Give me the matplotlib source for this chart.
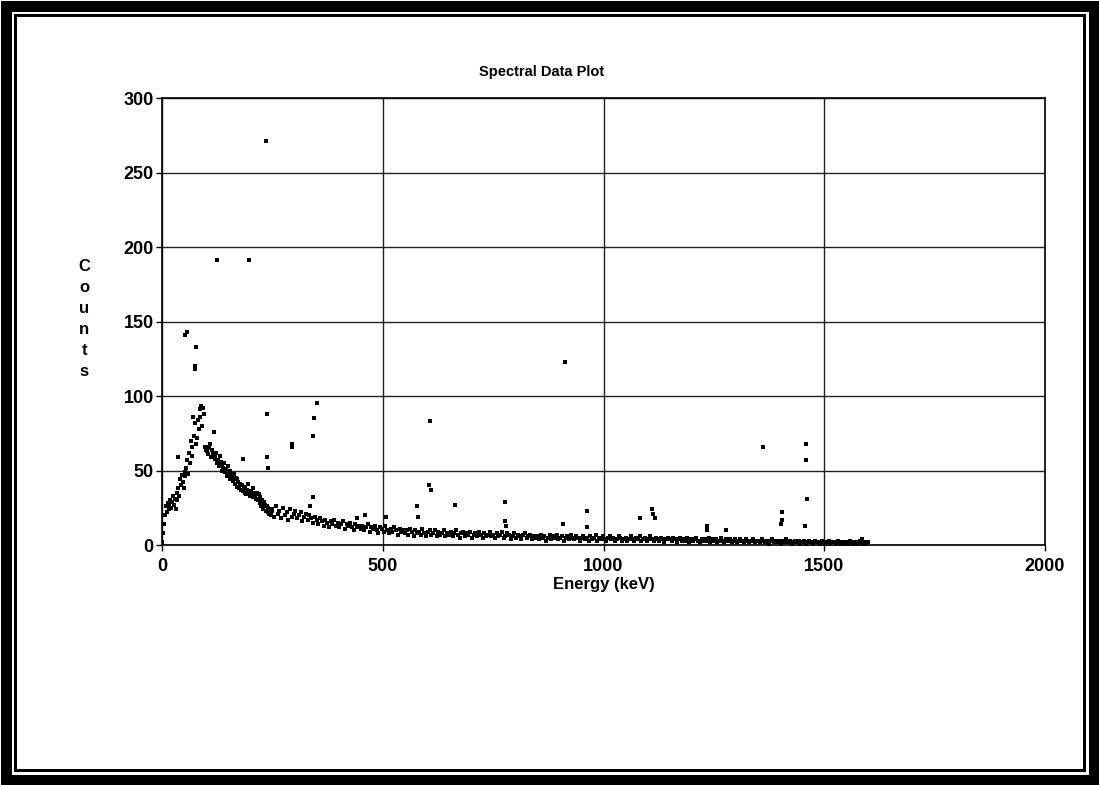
"""
Spectral Data Plot
==================

Scanned gamma spectrum (counts vs. energy), redrawn with matplotlib.
"""

import numpy as np
import matplotlib.pyplot as plt
from matplotlib.patches import Rectangle

plt.rcParams['font.family'] = ['Liberation Sans', 'DejaVu Sans']

# %%
# Continuum.  Low energies every 2 keV, the rest every 4 keV.

energy_lo = np.arange(1, 250, 2)       # [keV] channel energies 1..249
counts_lo = [
    2, 8, 14, 20, 26, 22, 28, 24, 27, 30,
    25, 29, 33, 27, 31, 24, 35, 30, 38, 33,
    44, 40, 47, 42, 38, 49, 46, 52, 57, 48,
    62, 55, 70, 66, 60, 86, 73, 82, 68, 72,
    84, 78, 91, 86, 93, 80, 92, 88, 66, 64,
    63, 66, 61, 65, 68, 59, 64, 62, 76, 60,
    58, 62, 55, 57, 53, 60, 56, 50, 54, 52,
    55, 49, 51, 46, 53, 48, 44, 50, 47, 45,
    43, 48, 41, 45, 39, 44, 42, 38, 41, 37,
    40, 36, 39, 35, 38, 34, 37, 41, 35, 33,
    36, 34, 38, 32, 35, 33, 31, 35, 30, 34,
    28, 32, 26, 30, 24, 29, 27, 23, 26, 22,
    25, 21, 24, 20, 23,
]

energy_hi = np.arange(250, 1600, 4)    # [keV] channel energies 250..1598
counts_hi = [
    24, 19, 26, 21, 23, 18, 25, 20, 22, 17, 24, 19, 21, 23, 18, 20, 22, 16, 19, 21, 17, 20, 18, 15, 19,
    17, 14, 18, 16, 13, 17, 15, 12, 16, 14, 17, 13, 15, 12, 14, 16, 11, 14, 13, 15, 12, 10, 14, 12, 13,
    11, 13, 10, 12, 14, 9, 12, 11, 13, 10, 8, 12, 11, 9, 13, 10, 8, 11, 9, 12, 10, 7, 11, 9, 10,
    8, 10, 7, 11, 9, 6, 10, 8, 9, 7, 11, 8, 6, 9, 10, 7, 8, 10, 6, 9, 7, 8, 10, 6, 8,
    7, 9, 6, 8, 10, 7, 5, 8, 9, 6, 8, 7, 9, 5, 7, 8, 6, 9, 7, 5, 8, 6, 7, 9, 6,
    7, 5, 8, 6, 7, 9, 5, 6, 8, 7, 4, 6, 8, 5, 7, 6, 4, 7, 8, 5, 6, 7, 4, 6, 5,
    6, 4, 7, 5, 6, 3, 5, 7, 4, 6, 5, 7, 4, 5, 6, 3, 5, 6, 4, 7, 5, 4, 6, 5, 3,
    5, 6, 4, 5, 3, 6, 4, 5, 7, 3, 5, 4, 6, 4, 3, 5, 6, 4, 5, 3, 4, 6, 5, 3, 4,
    5, 3, 4, 6, 4, 3, 5, 4, 6, 3, 4, 5, 3, 4, 6, 4, 3, 5, 4, 3, 5, 4, 2, 4, 5,
    4, 3, 5, 4, 2, 4, 5, 3, 4, 3, 5, 2, 4, 3, 4, 5, 3, 2, 4, 3, 4, 3, 5, 2, 4,
    3, 4, 2, 3, 5, 3, 2, 4, 3, 4, 2, 3, 4, 2, 3, 4, 3, 2, 4, 3, 2, 3, 4, 2, 3,
    3, 2, 4, 3, 2, 3, 1, 3, 4, 2, 3, 2, 3, 1, 3, 2, 4, 2, 3, 1, 2, 3, 2, 3, 1,
    2, 3, 1, 2, 3, 2, 1, 3, 2, 2, 1, 3, 2, 1, 2, 3, 1, 2, 2, 1, 3, 2, 1, 2, 1,
    2, 1, 3, 2, 1, 2, 1, 2, 3, 1, 2, 1, 2,
]

# isolated points (peaks and stray channels)
peak_energy = [36, 53, 56, 74, 75, 76, 124, 184, 196, 236, 238, 238, 239,
               294, 294, 335, 342, 342, 344, 351, 441, 460, 507, 578, 579,
               605, 607, 610, 663, 777, 777, 779, 908, 913, 962, 962,
               1083, 1110, 1113, 1117, 1234, 1234, 1277, 1361,
               1404, 1405, 1403, 1459, 1458, 1460, 1457, 1585]
peak_counts = [59, 141, 143, 120, 118, 133, 191, 58, 191, 271, 88, 59, 52,
               68, 66, 26, 32, 73, 85, 95, 18, 20, 19, 26, 19,
               40, 83, 37, 27, 29, 16, 13, 14, 123, 23, 12,
               18, 24, 21, 18, 13, 10, 10, 66,
               22, 17, 14, 68, 57, 31, 13, 4]

# %%
# Figure: same pixel size as the scan.

fig = plt.figure(figsize=(10.99, 7.85), dpi=100)
ax = fig.add_axes([0.1474, 0.3057, 0.8035, 0.5694])

for e, c in [(energy_lo, counts_lo), (energy_hi, counts_hi), (peak_energy, peak_counts)]:
    ax.plot(e, c, linestyle='none', marker='s', markersize=2.4,
            color='black', markeredgewidth=0)

ax.set_xlim(0, 2000)
ax.set_ylim(0, 300)
ax.set_xticks([0, 500, 1000, 1500, 2000])
ax.set_yticks(range(0, 301, 50))
ax.grid(True, color='#202020', linewidth=1.0)
ax.set_axisbelow(True)
for side in ax.spines.values():
    side.set_color('black')
    side.set_linewidth(1.2)
ax.tick_params(direction='out', length=4, width=1, labelsize=13)
ax.tick_params(axis='x', pad=5)
ax.tick_params(axis='y', pad=2)
for lab in ax.get_xticklabels() + ax.get_yticklabels():
    lab.set_fontweight('bold')

ax.set_xlabel('Energy (keV)', fontsize=12, fontweight='bold', labelpad=2)
# stacked letters, as on the scan
ax.set_ylabel('C\no\nu\nn\nt\ns', rotation=0, fontsize=12, fontweight='bold',
              linespacing=1.5, va='center', ha='center')
ax.yaxis.set_label_coords(-0.088, 0.505)

fig.text(542 / 1099, 1 - 72 / 785, 'Spectral Data Plot', ha='center',
         va='center', fontsize=10.5, fontweight='bold')

# double page frame of the scan
W, H = 1099, 785
for inset, lw in [(5.5, 11), (15, 3)]:
    fig.patches.append(Rectangle((inset / W, inset / H), 1 - 2 * inset / W,
                                 1 - 2 * inset / H, transform=fig.transFigure,
                                 fill=False, edgecolor='black',
                                 linewidth=lw * 0.72))

fig.savefig('out.png', dpi=100)
